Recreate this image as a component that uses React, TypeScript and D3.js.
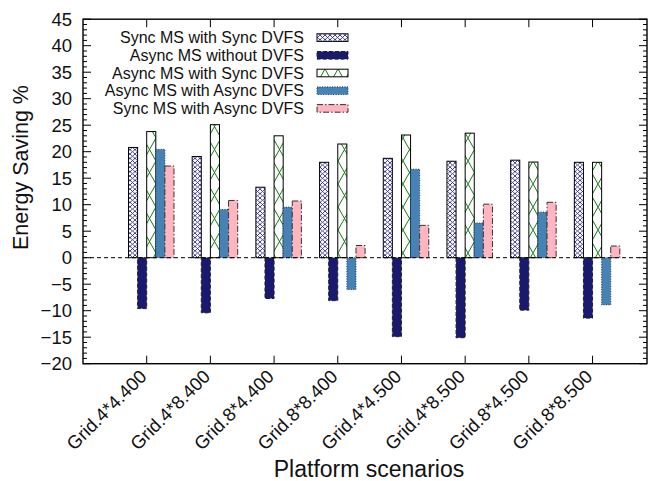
import React from "react";
import * as d3 from "d3";

const categories = ["Grid.4*4.400", "Grid.4*8.400", "Grid.8*4.400", "Grid.8*8.400", "Grid.4*4.500", "Grid.4*8.500", "Grid.8*4.500", "Grid.8*8.500"];
const seriesNames = ["Sync MS with Sync DVFS", "Async MS without DVFS", "Async MS with Sync DVFS", "Async MS with Async DVFS", "Sync MS with Async DVFS"];
const syncSync = [20.8, 19.1, 13.3, 18.0, 18.75, 18.2, 18.4, 18.0];
const asyncNone = [-9.6, -10.4, -7.7, -8.1, -14.9, -15.1, -9.9, -11.4];
const asyncSync = [23.8, 25.1, 23.0, 21.45, 23.15, 23.5, 18.05, 18.0];
const asyncAsync = [20.45, 9.1, 9.55, -6.0, 16.7, 6.55, 8.6, -8.9];
const syncAsync = [17.3, 10.8, 10.7, 2.3, 6.1, 10.1, 10.45, 2.2];
const seriesValues = [syncSync, asyncNone, asyncSync, asyncAsync, syncAsync];
const yTicks = [-20, -15, -10, -5, 0, 5, 10, 15, 20, 25, 30, 35, 40, 45];

const W = 654, H = 481;
const L = 83, R = 647, T = 19.2, B = 363.7;
const FONT = "'Liberation Sans', Arial, Helvetica, sans-serif";

const styles = [
  { fill: "url(#patDiamond)", stroke: "#000", dash: "none" },
  { fill: "#191970", stroke: "#222", dash: "4,2" },
  { fill: "url(#patX)", stroke: "#000", dash: "none" },
  { fill: "#4682B4", stroke: "#1a3a66", dash: "1,1.5" },
  { fill: "#FFB6C1", stroke: "#333", dash: "6,2,1.5,2" },
];

export default function App() {
  const x = d3.scaleLinear().domain([-1, 7.855]).range([L, R]);
  const y = d3.scaleLinear().domain([-20, 45]).range([B, T]);
  const step = x(1) - x(0);
  const bw = step / 7;
  const inner = d3.scaleBand<number>().domain(d3.range(5)).range([-2 * bw, 3 * bw]).padding(0);
  const minor = d3.range(-20, 46, 1).filter((v) => v % 5 !== 0);
  const fmt = (v: number) => (v < 0 ? "\u2212" + Math.abs(v) : String(v));

  return (
    <svg width={W} height={H} style={{ position: "absolute", left: 0, top: 0, background: "#fff" }} fontFamily={FONT}>
      <defs>
        <pattern id="patDiamond" patternUnits="userSpaceOnUse" width={5} height={4.4}>
          <rect width={5} height={4.4} fill="#fff" />
          <path d="M0,0L5,4.4M5,0L0,4.4" stroke="#1c1c8a" strokeWidth={0.8} />
        </pattern>
        <pattern id="patX" patternUnits="userSpaceOnUse" width={13} height={23}>
          <rect width={13} height={23} fill="#fff" />
          <path d="M0,0L13,23M13,0L0,23" stroke="#137a13" strokeWidth={1} />
        </pattern>
      </defs>

      {/* bars */}
      {seriesValues.map((vals, s) =>
        vals.map((v, i) => {
          const x0 = x(i) + (inner(s) as number);
          const y0 = Math.min(y(v), y(0));
          const h = Math.abs(y(v) - y(0));
          return (
            <rect key={`b${s}-${i}`} x={x0} y={y0} width={inner.bandwidth()} height={h}
              fill={styles[s].fill} stroke={styles[s].stroke} strokeWidth={1}
              strokeDasharray={styles[s].dash} />
          );
        })
      )}

      {/* zero line */}
      <line x1={L} x2={R} y1={y(0)} y2={y(0)} stroke="#000" strokeWidth={1} strokeDasharray="4,3" />

      {/* frame */}
      <rect x={L} y={T} width={R - L} height={B - T} fill="none" stroke="#000" strokeWidth={1.4} />

      {/* y ticks */}
      {yTicks.map((v) => (
        <g key={`yt${v}`}>
          <line x1={L} x2={L + 8} y1={y(v)} y2={y(v)} stroke="#000" strokeWidth={1} />
          <line x1={R} x2={R - 8} y1={y(v)} y2={y(v)} stroke="#000" strokeWidth={1} />
          <text x={72} y={y(v)} dy="0.36em" textAnchor="end" fontSize={18.5} fill="#111">{fmt(v)}</text>
        </g>
      ))}
      {minor.map((v) => (
        <g key={`ym${v}`}>
          <line x1={L} x2={L + 4} y1={y(v)} y2={y(v)} stroke="#000" strokeWidth={1} />
          <line x1={R} x2={R - 4} y1={y(v)} y2={y(v)} stroke="#000" strokeWidth={1} />
        </g>
      ))}

      {/* x ticks */}
      {categories.map((c, i) => (
        <g key={`xt${i}`}>
          <line x1={x(i)} x2={x(i)} y1={B} y2={B - 8} stroke="#000" strokeWidth={1} />
          <line x1={x(i)} x2={x(i)} y1={T} y2={T + 8} stroke="#000" strokeWidth={1} />
          <text transform={`translate(${x(i) + 1},${B + 14}) rotate(-45)`} textAnchor="end" fontSize={18.5} fill="#111">{c}</text>
        </g>
      ))}

      {/* axis titles */}
      <text transform={`translate(28,${167.5}) rotate(-90)`} textAnchor="middle" fontSize={21.5} fill="#111">Energy Saving %</text>
      <text x={369} y={477} textAnchor="middle" fontSize={23} fill="#111">Platform scenarios</text>

      {/* legend */}
      {seriesNames.map((n, s) => {
        const cy = 37.6 + s * 17.7;
        return (
          <g key={`lg${s}`}>
            <text x={304} y={cy} dy="0.36em" textAnchor="end" fontSize={16} fill="#111">{n}</text>
            <rect x={317} y={cy - 3.8} width={31} height={7.6} fill={styles[s].fill}
              stroke={styles[s].stroke} strokeWidth={1} strokeDasharray={styles[s].dash} />
          </g>
        );
      })}
    </svg>
  );
}
